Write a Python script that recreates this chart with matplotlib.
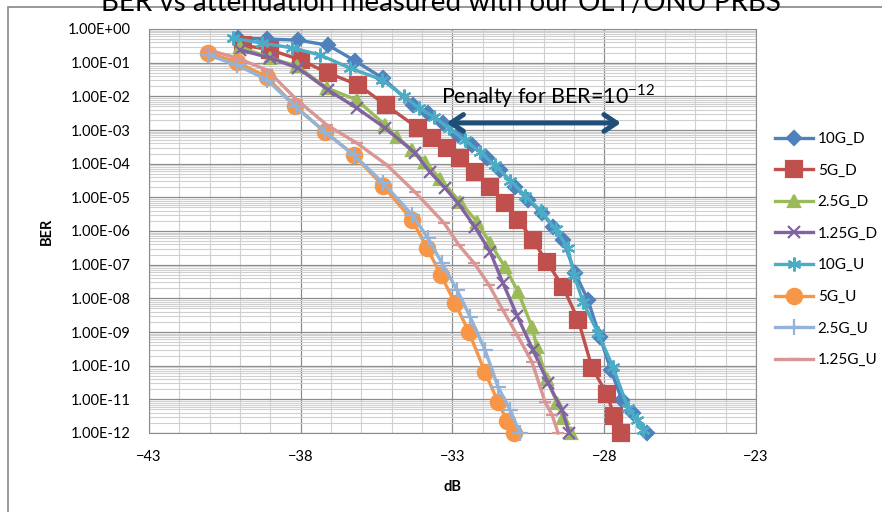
import matplotlib
matplotlib.use('Agg')
import matplotlib.pyplot as plt
import numpy as np

plt.rcParams['font.family'] = ['Lato', 'DejaVu Sans']
plt.rcParams['mathtext.fontset'] = 'custom'
plt.rcParams['mathtext.rm'] = 'Lato'

# attenuation (dB) and log10(BER)
x_10g_d = [-40.07, -39.1, -38.1, -37.1, -36.2, -35.3, -34.3, -33.81, -33.31, -32.82, -32.36,
           -31.86, -31.43, -30.94, -30.51, -30.05, -29.69, -29.36, -28.96, -28.54, -28.14,
           -27.78, -27.42, -27.05, -26.59]
y_10g_d = [-0.26, -0.30, -0.33, -0.48, -0.95, -1.46, -2.26, -2.49, -2.79, -3.15, -3.45,
           -3.83, -4.19, -4.69, -5.08, -5.46, -5.88, -6.27, -7.25, -8.05, -9.15,
           -10.13, -11.02, -11.4, -12.0]

x_5g_d = [-39.9, -39.0, -38.0, -37.1, -36.1, -35.2, -34.14, -33.68, -33.18, -32.75, -32.26,
          -31.76, -31.27, -30.84, -30.35, -29.89, -29.36, -28.86, -28.40, -27.91, -27.68, -27.45]
y_5g_d = [-0.48, -0.62, -0.92, -1.31, -1.66, -2.26, -2.94, -3.24, -3.53, -3.83, -4.25,
          -4.69, -5.17, -5.67, -6.27, -6.92, -7.66, -8.64, -10.07, -10.84, -11.49, -12.0]

x_25g_d = [-40.0, -39.01, -38.12, -37.14, -36.15, -35.22, -34.83, -34.33, -33.91, -33.41,
           -32.75, -32.19, -31.76, -31.27, -30.84, -30.38, -30.22, -29.89, -29.56, -29.36, -29.10]
y_25g_d = [-0.53, -0.86, -1.10, -1.75, -2.11, -2.85, -3.22, -3.58, -3.95, -4.45,
           -5.14, -5.73, -6.36, -7.07, -7.81, -8.85, -9.45, -10.4, -11.1, -11.55, -12.0]

x_125g_d = [-40.0, -39.01, -38.09, -37.1, -36.15, -35.22, -34.24, -33.74, -33.25, -32.82,
            -32.26, -31.76, -31.34, -30.87, -30.35, -29.85, -29.39, -29.15]
y_125g_d = [-0.62, -0.86, -1.16, -1.81, -2.35, -2.94, -3.68, -4.25, -4.72, -5.17,
            -5.88, -6.62, -7.54, -8.52, -9.53, -10.51, -11.32, -12.0]

x_10g_u = [-40.23, -39.28, -38.29, -37.37, -36.38, -35.32, -34.6, -34.1, -33.6, -33.1, -32.6,
           -32.1, -31.6, -31.1, -30.6, -30.1, -29.6, -29.2, -29.0, -28.70, -28.21, -27.71,
           -27.22, -26.92, -26.72]
y_10g_u = [-0.27, -0.42, -0.56, -0.77, -1.16, -1.51, -2.0, -2.35, -2.62, -2.95, -3.3,
           -3.65, -4.05, -4.5, -4.95, -5.4, -5.95, -6.5, -7.3, -8.1, -9.03, -10.04,
           -11.26, -11.6, -11.9]

x_5g_u = [-41.06, -40.1, -39.11, -38.19, -37.2, -36.25, -35.29, -34.33, -33.84, -33.38,
          -32.92, -32.46, -31.93, -31.50, -31.2, -30.97]
y_5g_u = [-0.71, -0.98, -1.43, -2.29, -3.06, -3.74, -4.66, -5.67, -6.5, -7.31,
          -8.14, -9.0, -10.19, -11.08, -11.64, -12.0]

x_25g_u = [-41.06, -40.1, -39.11, -38.16, -37.2, -36.25, -35.29, -34.33, -33.81, -33.35,
           -32.85, -32.42, -31.93, -31.5, -31.1, -30.78]
y_25g_u = [-0.77, -1.07, -1.51, -2.32, -3.06, -3.74, -4.57, -5.52, -6.21, -6.95,
           -7.75, -8.55, -9.53, -10.63, -11.32, -12.0]

x_125g_u = [-41.06, -40.1, -39.11, -38.12, -37.14, -36.15, -35.16, -34.24, -33.28, -32.79,
            -32.29, -31.8, -31.34, -30.87, -30.38, -29.95, -29.72, -29.52]
y_125g_u = [-0.62, -0.86, -1.22, -2.11, -2.85, -3.39, -4.04, -4.84, -5.76, -6.42,
            -6.95, -7.6, -8.35, -9.09, -9.89, -11.08, -11.46, -12.0]

series = [
    ('10G_D', x_10g_d, y_10g_d, '#4F81BD', 'D', 7),
    ('5G_D', x_5g_d, y_5g_d, '#C0504D', 's', 12),
    ('2.5G_D', x_25g_d, y_25g_d, '#9BBB59', '^', 9),
    ('1.25G_D', x_125g_d, y_125g_d, '#8064A2', 'x', 9),
    ('10G_U', x_10g_u, y_10g_u, '#4BACC6', (6, 2, 0), 10),
    ('5G_U', x_5g_u, y_5g_u, '#F79646', 'o', 11),
    ('2.5G_U', x_25g_u, y_25g_u, '#95B3D7', '+', 11),
    ('1.25G_U', x_125g_u, y_125g_u, '#D99694', '_', 9),
]

x_ticks = [-43, -38, -33, -28, -23]
y_exp = list(range(0, -13, -1))
title = 'BER vs attenuation measured with our OLT/ONU PRBS'
arrow_left = (-33.2, 10 ** -2.79)
arrow_right = (-27.45, 10 ** -2.79)
penalty_pos = (-29.85, 10 ** -2.0)

fig = plt.figure(figsize=(8.82, 5.12), dpi=100)
ax = fig.add_axes([149 / 882, 79 / 512, 607 / 882, 404 / 512])

for name, xs, ys, col, mk, ms in series:
    ax.plot(xs, 10.0 ** np.array(ys), color=col, lw=2.4, marker=mk, ms=ms,
            mew=1.6, mec=col, mfc=col, label=name, clip_on=False, zorder=3)

ax.set_yscale('log')
ax.set_xlim(-43, -23)
ax.set_ylim(1e-12, 1)
ax.set_xticks(x_ticks)
ax.set_xticks(np.arange(-43, -22, 1), minor=True)
ax.set_yticks([10.0 ** e for e in y_exp])
ax.set_yticklabels(['1.00E+00' if e == 0 else '1.00E-%02d' % (-e) for e in y_exp])
ax.yaxis.set_minor_locator(matplotlib.ticker.LogLocator(base=10, subs=np.arange(2, 10), numticks=20))
ax.yaxis.set_minor_formatter(matplotlib.ticker.NullFormatter())
ax.grid(True, which='major', color='#8c8c8c', lw=0.9)
ax.grid(True, which='minor', color='#d0d0d0', lw=0.8)
ax.set_axisbelow(True)
ax.tick_params(which='both', length=0, labelsize=10.5, colors='black')
ax.tick_params(axis='x', pad=12)
ax.tick_params(axis='y', pad=13)
for s in ax.spines.values():
    s.set_color('#8c8c8c')

ax.set_xlabel('dB', fontsize=10.5, fontweight='bold', labelpad=12)
ax.set_ylabel('BER', fontsize=10.5, fontweight='bold', labelpad=10)

ax.annotate('', xy=arrow_left, xytext=arrow_right,
            arrowprops=dict(arrowstyle='<->,head_length=0.9,head_width=0.6',
                            color='#1F4E79', lw=3.6, shrinkA=0, shrinkB=0))
ax.text(penalty_pos[0], penalty_pos[1], 'Penalty for BER=10$^{\\mathrm{-12}}$',
        fontsize=15.5, ha='center', va='center', zorder=5)

fig.legend(loc='upper left', bbox_to_anchor=(775 / 882, 1 - 132 / 512), frameon=False,
           fontsize=11, handlelength=2.5, labelspacing=1.15, handletextpad=0.3,
           borderpad=0, borderaxespad=0)

fig.text(0.5, 1 - 11 / 512, title, fontsize=20, ha='center', va='baseline')
fig.patches.append(plt.Rectangle((8 / 882, -0.1), 1.2, 1 - 7 / 512 + 0.1,
                                 transform=fig.transFigure, fill=False,
                                 edgecolor='#868686', lw=1.2))

fig.savefig('out.png', dpi=100)
